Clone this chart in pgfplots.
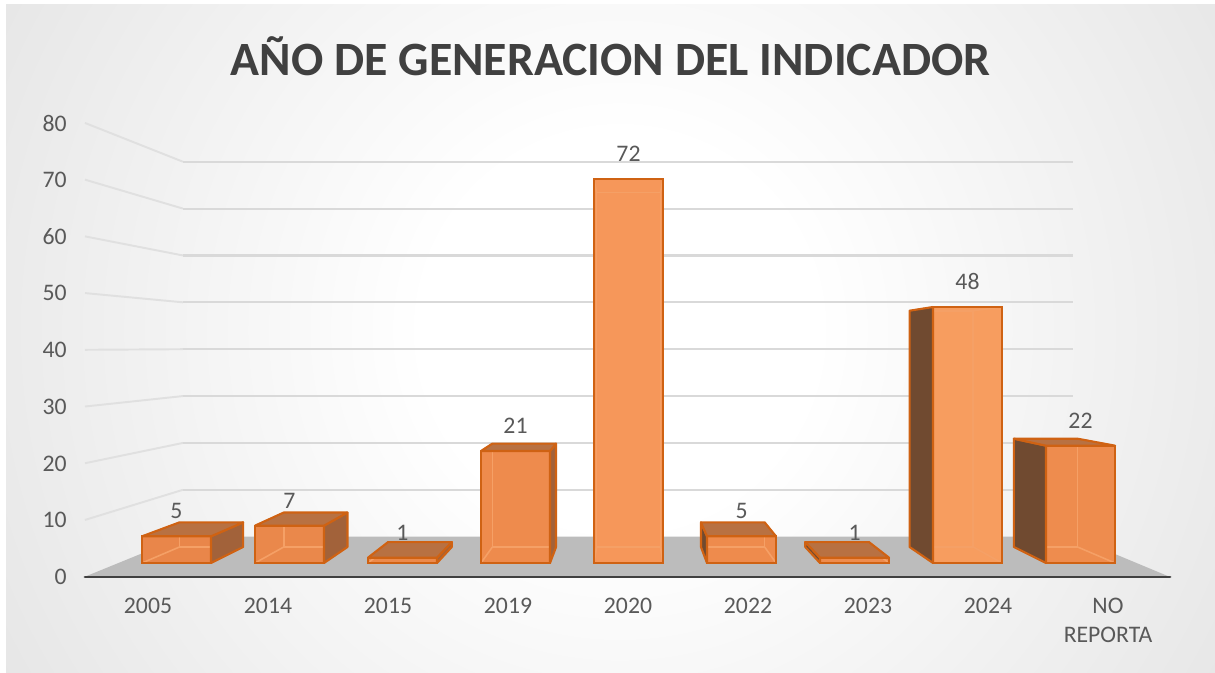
\documentclass[border=0pt]{standalone}
\usepackage{pgfplots}
\pgfplotsset{compat=1.18}
\usepackage{pgfplotstable}
\usepackage{fontspec}
\setmainfont{Carlito}

\definecolor{txt}{HTML}{595959}
\definecolor{ttl}{HTML}{404040}
\definecolor{bord}{HTML}{CF6213}
\definecolor{inner}{HTML}{F5A066}
\definecolor{sideL}{HTML}{704A30}
\definecolor{sideR}{HTML}{A2623A}
\definecolor{topF}{HTML}{B87142}
\definecolor{floorC}{HTML}{BCBCBC}
\definecolor{gridC}{HTML}{D9D9D9}
\definecolor{gridS}{HTML}{E0E0E0}
\definecolor{axisC}{HTML}{404040}
\definecolor{fc0}{HTML}{E9864A}
\definecolor{fc1}{HTML}{EA884B}
\definecolor{fc2}{HTML}{EC8A4C}
\definecolor{fc3}{HTML}{EE8B4D}
\definecolor{fc4}{HTML}{F6975A}
\definecolor{fc5}{HTML}{EE8B4D}
\definecolor{fc6}{HTML}{EE8C4E}
\definecolor{fc7}{HTML}{F79D5F}
\definecolor{fc8}{HTML}{EE8C4E}
\definecolor{bgA}{HTML}{E8E8E8}
\definecolor{bgB}{HTML}{CBCBCB}
\definecolor{bgC}{HTML}{C0C0C0}
\definecolor{bgD}{HTML}{B8B8B8}

\pgfdeclareradialshading{bgshade}{\pgfpoint{0bp}{0bp}}{color(0bp)=(white); color(7bp)=(white); color(24bp)=(bgA); color(43.4bp)=(bgB); color(49.6bp)=(bgC); color(72bp)=(bgD)}

\pgfplotstableread{
idx v
0 5
1 7
2 1
3 21
4 72
5 5
6 1
7 48
8 22
}\datatable

\newcommand{\lblfont}{\fontsize{6.75}{8.25}\selectfont}

\begin{document}
\begin{tikzpicture}
\useasboundingbox (0cm,0cm) rectangle (12.15cm,6.72cm);
\begin{scope}[shift={(0cm,6.72cm)}, x=0.01cm, y=-0.01cm]
  \fill[bgC] (-30,-30) rectangle (1245,702);
  \begin{scope}
    \clip (6,4) rectangle (1245,702);
    \shade[shading=bgshade] (-80,-370) rectangle (1320,1030);
  \end{scope}
  \fill[white] (-30,-30) rectangle (6,702);
  \fill[white] (-30,-30) rectangle (1245,4);
  \foreach \v in {10,20,...,80}{
    \draw[gridS, line width=0.55pt] (85,{577-5.675*\v}) -- (183,{537-4.69*\v});
    \draw[gridC, line width=0.6pt] (183,{537-4.69*\v}) -- (1074,{537-4.69*\v});
  }
  \fill[floorC] (85,577) -- (183,537) -- (1074,537) -- (1170,577) -- cycle;
  \node[font=\bfseries\fontsize{13.6}{16}\selectfont, text=ttl] at (611,56) {AÑO DE GENERACION DEL INDICADOR};
\end{scope}

\begin{axis}[
  at={(0.85cm,0.95cm)}, anchor=south west, scale only axis,
  width=10.85cm, height=4.54cm,
  xmin=-0.525, xmax=8.5167, ymin=0, ymax=80,
  axis lines*=left,
  x axis line style={draw=axisC, line width=0.85pt, line cap=round},
  y axis line style={draw=none},
  xtick={0,...,8},
  xticklabels={2005,2014,2015,2019,2020,2022,2023,2024,{NO\\REPORTA}},
  ytick={0,10,...,80},
  major tick length=0pt,
  tick style={draw=none},
  ticklabel style={font=\lblfont, text=txt},
  xticklabel style={align=center, anchor=north, yshift=-0.09cm},
  yticklabel style={anchor=east, xshift=-0.06cm},
  /pgf/number format/assume math mode=true,
  clip=false,
]
\end{axis}

\begin{axis}[
  at={(0.85cm,1.09cm)}, anchor=south west, scale only axis,
  width=10.85cm, height=4.26667cm,
  xmin=-0.80973, xmax=8.79204, ymin=0, ymax=80,
  hide axis, clip=false, no markers,
]
\pgfplotsinvokeforeach{0,...,8}{
  \pgfplotstablegetelem{#1}{v}\of\datatable
  \edef\lab{\pgfplotsretval}
  \pgfmathsetmacro\vv{\pgfplotsretval}
  \pgfmathsetmacro\xL{#1-0.3053}
  \pgfmathsetmacro\xR{#1+0.3053}
  \pgfmathsetmacro\xLb{4+(\xL-4)*0.923}
  \pgfmathsetmacro\xRb{4+(\xR-4)*0.923}
  \pgfmathsetmacro\yOb{39-39*0.923}
  \pgfmathsetmacro\vb{39+(\vv-39)*0.923}
  \edef\doplots{%
    \noexpand\addplot[ybar, bar width=0.69cm, bar shift=0pt, fill=fc#1, draw=none] coordinates {(#1,\vv)};
    \noexpand\addplot[inner, line width=0.45pt] coordinates {(\xLb,\yOb) (\xRb,\yOb) (\xRb,\vb) (\xLb,\vb) (\xLb,\yOb)};
    \noexpand\addplot[inner, line width=0.45pt] coordinates {(\xL,0) (\xLb,\yOb)};
    \noexpand\addplot[inner, line width=0.45pt] coordinates {(\xR,0) (\xRb,\yOb)};
    \noexpand\addplot[inner, line width=0.45pt] coordinates {(\xL,\vv) (\xLb,\vb)};
    \noexpand\addplot[inner, line width=0.45pt] coordinates {(\xR,\vv) (\xRb,\vb)};
    \ifnum#1<4
    \noexpand\addplot[fill=sideR, draw=bord, line width=0.6pt, line join=round] coordinates {(\xR,0) (\xR,\vv) (\xRb,\vb) (\xRb,\yOb) (\xR,0)};
    \fi
    \ifnum#1>4
    \noexpand\addplot[fill=sideL, draw=bord, line width=0.6pt, line join=round] coordinates {(\xL,0) (\xL,\vv) (\xLb,\vb) (\xLb,\yOb) (\xL,0)};
    \fi
    \ifdim\vv pt<39pt
    \noexpand\addplot[fill=topF, draw=bord, line width=0.6pt, line join=round] coordinates {(\xL,\vv) (\xR,\vv) (\xRb,\vb) (\xLb,\vb) (\xL,\vv)};
    \fi
    \noexpand\addplot[ybar, bar width=0.69cm, bar shift=0pt, fill=none, draw=bord, line width=0.6pt] coordinates {(#1,\vv)};
    \noexpand\addplot[draw=none, nodes near coords, point meta=explicit symbolic, nodes near coords style={font=\noexpand\lblfont, text=txt, anchor=south, yshift=0.05cm}] coordinates {(#1,\vv) [\lab]};
  }\doplots
}
\end{axis}
\end{tikzpicture}
\end{document}
